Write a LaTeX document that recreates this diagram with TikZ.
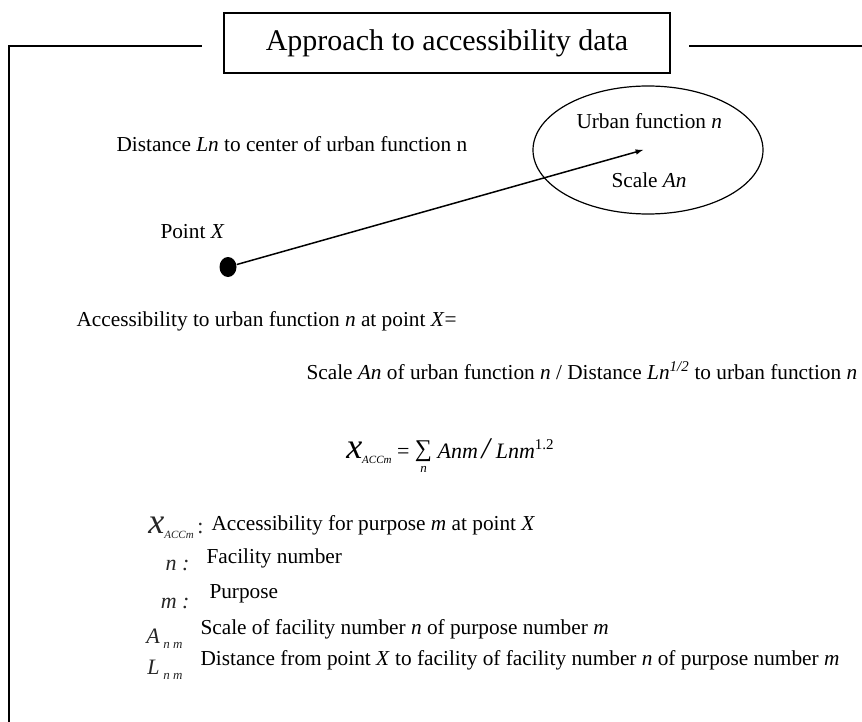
\documentclass[tikz,border=0pt]{standalone}
\usepackage{fontspec}
\setmainfont{Liberation Serif}
\usetikzlibrary{arrows,positioning,shapes}
\tikzset{
  txt/.style={inner sep=0pt,anchor=base west,font=\fontsize{21.3}{24}\selectfont},
  sym/.style={inner sep=0pt,anchor=base east,font=\fontsize{22}{24}\selectfont\itshape,text=black!85},
}
\newcommand{\xacc}{{\fontsize{36}{36}\selectfont\textit{x}}\raisebox{-5pt}{\fontsize{11}{12}\selectfont\textit{ACCm}}}
\newcommand{\sumn}{\raisebox{-14pt}{\shortstack{{\fontsize{24}{24}\selectfont ∑}\\[1pt]{\fontsize{13}{13}\selectfont\textit{n}}}}}

\begin{document}
\begin{tikzpicture}[x=1pt,y=-1pt,line width=1pt]
	\useasboundingbox (0,0) rectangle (862,722);

	% frame and title
	\node[draw,line width=2pt,inner sep=0pt,minimum width=446pt,minimum height=60pt,
	      font=\fontsize{30}{32}\selectfont] (title) at (447,43) {Approach to accessibility data};
	\coordinate (fl) at (9,46);
	\draw[line width=2pt] (9,722) -- (fl) -- (202,46);
	\draw[line width=2pt] (689,46) -- (862,46);

	% urban function n
	\node[draw,ellipse,line width=1.2pt,inner sep=0pt,minimum width=230pt,minimum height=128pt] (fn) at (648,150) {};
	\node[txt] (fnname) at (576,129) {Urban function \textit{n}};
	\node[txt] (fnscale) at (611,188) {Scale \textit{An}};
	\node[txt] (dist) at (116,152) {Distance \textit{Ln} to center of urban function n};

	% point X
	\node[ellipse,fill,inner sep=0pt,minimum width=17pt,minimum height=20pt] (px) at (228,267) {};
	\node[txt] (pxname) at (160,239) {Point \textit{X}};
	\coordinate (tip) at (643,150);
	\draw[-latex,line width=1.5pt] (px) -- (tip);

	% definition
	\node[txt] (acc) at (76,326) {Accessibility to urban function \textit{n} at point \textit{X}=};
	\node[txt] (ratio) at (306,379) {Scale \textit{An} of urban function \textit{n} / Distance \textit{Ln}\textsuperscript{\textit{1/2}} to urban function \textit{n}};

	% formula
	\node[inner sep=0pt,anchor=base] (formula) at (450,458) {\xacc
	  \fontsize{22}{24}\selectfont\ =\ \sumn\ \textit{Anm}\,{\fontsize{30}{30}\selectfont\textit{/}}\,\textit{Lnm}\raisebox{9pt}{\fontsize{15}{15}\selectfont 1.2}};

	% legend
	\node[sym] (s1) at (204,533) {\xacc\upshape\,:};
	\node[txt] (l1) at (211,530) {Accessibility for purpose \textit{m} at point \textit{X}};
	\node[sym] (s2) at (190,570) {n :};
	\node[txt] (l2) at (206,563) {Facility number};
	\node[sym] (s3) at (190,608) {m :};
	\node[txt] (l3) at (209,598) {Purpose};
	\node[sym] (s4) at (183,643) {A\,\raisebox{-5pt}{\fontsize{13}{13}\selectfont n m}};
	\node[txt] (l4) at (200,634) {Scale of facility number \textit{n} of purpose number \textit{m}};
	\node[sym] (s5) at (183,674) {L\,\raisebox{-5pt}{\fontsize{13}{13}\selectfont n m}};
	\node[txt] (l5) at (200,665) {Distance from point \textit{X} to facility of facility number \textit{n} of purpose number \textit{m}};
\end{tikzpicture}
\end{document}
